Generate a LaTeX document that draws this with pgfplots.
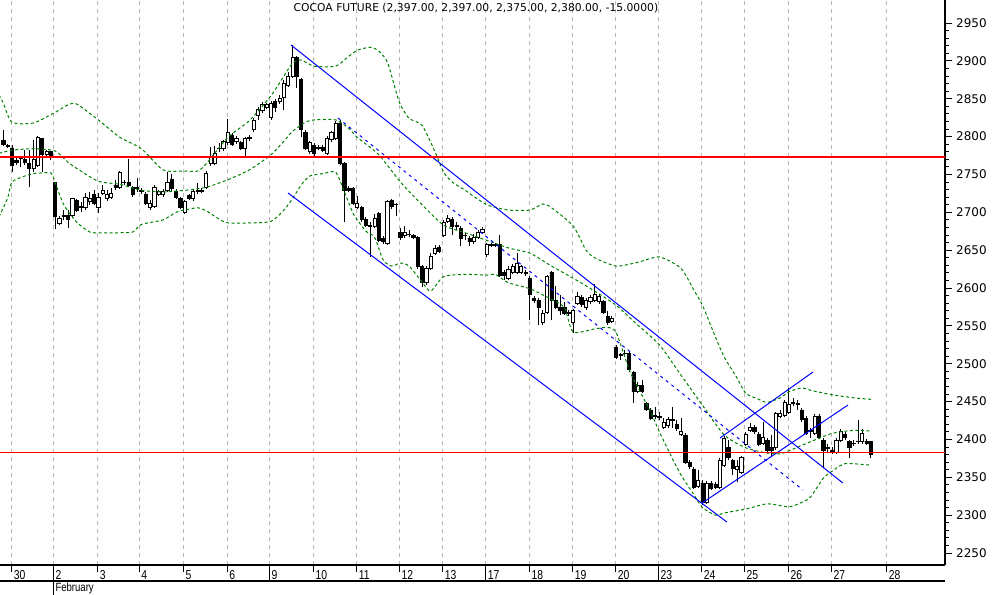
\documentclass[border=0pt]{standalone}
\usepackage{fontspec}
\setmainfont{DejaVu Sans}
\newfontfamily\narrowfont[FakeStretch=0.8]{Liberation Sans}
\usepackage{pgfplots}
\pgfplotsset{compat=1.18}
\usepackage{pgfplotstable}
\definecolor{bandgreen}{RGB}{0,128,0}
\definecolor{gridgray}{RGB}{185,185,185}

\pgfplotstableread{
n O H L C
-2 2795 2809 2788 2790
-1 2788 2790 2785 2787
0 2785 2789 2753 2762
1 2768 2772 2762 2766
2 2772 2774 2760 2771
3 2770 2782 2762 2766
4 2764 2782 2733 2758
5 2758 2795 2753 2770
6 2762 2801 2760 2799
7 2797 2798 2753 2776
8 2777 2782 2773 2780
9 2780 2781 2769 2773
10 2739 2740 2678 2694
11 2686 2695 2683 2692
12 2696 2703 2690 2695
13 2696 2703 2679 2690
14 2696 2719 2692 2718
15 2716 2718 2700 2703
16 2708 2714 2700 2706
17 2706 2726 2703 2720
18 2714 2727 2710 2719
19 2723 2729 2710 2712
20 2707 2726 2699 2720
21 2725 2736 2723 2729
22 2718 2729 2715 2724
23 2720 2732 2718 2725
24 2736 2743 2729 2733
25 2733 2755 2731 2753
26 2740 2743 2736 2739
27 2740 2770 2733 2736
28 2733 2735 2720 2723
29 2733 2745 2727 2732
30 2727 2732 2724 2729
31 2724 2727 2710 2712
32 2707 2716 2703 2712
33 2708 2736 2706 2733
34 2724 2729 2722 2727
35 2723 2731 2720 2728
36 2729 2753 2727 2740
37 2744 2751 2728 2731
38 2728 2731 2718 2720
39 2718 2720 2704 2707
40 2700 2716 2698 2714
41 2722 2724 2716 2719
42 2718 2729 2715 2727
43 2727 2739 2724 2729
44 2727 2732 2725 2729
45 2733 2755 2731 2752
46 2764 2786 2761 2772
47 2765 2788 2762 2778
48 2784 2792 2780 2785
49 2784 2795 2781 2793
50 2792 2823 2789 2806
51 2802 2805 2788 2790
52 2793 2801 2790 2798
53 2792 2794 2782 2785
54 2785 2799 2773 2798
55 2797 2802 2794 2799
56 2809 2825 2806 2822
57 2828 2839 2822 2836
58 2834 2846 2831 2843
59 2839 2844 2836 2842
60 2826 2847 2822 2844
61 2847 2850 2832 2838
62 2846 2855 2843 2851
63 2852 2875 2835 2870
64 2868 2885 2866 2879
65 2880 2921 2877 2904
66 2904 2906 2864 2880
67 2875 2877 2799 2809
68 2806 2809 2782 2785
69 2780 2794 2777 2792
70 2789 2792 2772 2778
71 2786 2789 2782 2785
72 2786 2789 2780 2782
73 2778 2801 2776 2798
74 2796 2807 2793 2805
75 2798 2821 2796 2818
76 2818 2822 2762 2765
77 2765 2766 2687 2729
78 2732 2735 2727 2729
79 2731 2733 2710 2712
80 2707 2722 2704 2712
81 2706 2708 2687 2690
82 2691 2694 2681 2683
83 2683 2687 2641 2681
84 2682 2698 2679 2692
85 2698 2700 2661 2663
86 2666 2669 2658 2661
87 2659 2716 2657 2715
88 2716 2718 2704 2708
89 2711 2712 2695 2710
90 2673 2679 2663 2667
91 2669 2682 2666 2674
92 2671 2677 2667 2670.5
93 2669 2671 2665 2667
94 2667 2669 2625 2628
95 2628 2630 2601 2607
96 2607 2629 2604 2626
97 2626 2646 2624 2642
98 2646 2657 2644 2652
99 2654 2657 2646 2649
100 2670 2690 2667 2687
101 2688 2696 2686 2692
102 2691 2694 2670 2681
103 2683 2687 2677 2682
104 2679 2682 2656 2665
105 2670 2673 2663 2669
106 2666 2669 2656 2661
107 2661 2671 2658 2667
108 2667 2677 2665 2674
109 2674 2681 2671 2678
110 2644 2659 2641 2657
111 2658 2659 2654 2656
112 2658 2659 2654 2656
113 2657 2670 2615 2617
114 2620 2624 2611 2617
115 2613 2629 2611 2624
116 2621 2632 2618 2628
117 2621 2646 2618 2633
118 2621 2630 2618 2628
119 2621 2624 2616 2619
120 2613 2616 2558 2591
121 2586 2589 2580 2584
122 2584 2587 2551 2574
123 2554 2571 2551 2567
124 2568 2617 2566 2615
125 2620 2622 2558 2584
126 2584 2603 2572 2575
127 2575 2591 2564 2571
128 2575 2582 2564 2567
129 2568 2571 2563 2566
130 2555 2572 2541 2570
131 2580 2595 2578 2589
132 2588 2591 2575 2578
133 2574 2587 2571 2584
134 2582 2591 2579 2588
135 2584 2605 2582 2592
136 2582 2592 2579 2589
137 2582 2584 2566 2568
138 2563 2570 2551 2554
139 2556 2563 2554 2560
140 2522 2525 2506 2509
141 2512 2514 2505 2511
142 2514 2518 2510 2513
143 2514 2517 2489 2492
144 2488 2490 2448 2463
145 2464 2476 2461 2472
146 2471 2479 2461 2464
147 2447 2449 2438 2440
148 2439 2442 2426 2428
149 2430 2443 2427 2432
150 2430 2436 2426 2429
151 2416 2428 2414 2422
152 2418 2430 2415 2426
153 2426 2443 2415 2425
154 2420 2426 2411 2414
155 2407 2428 2405 2410
156 2406 2408 2368 2370
157 2370 2373 2361 2364
158 2361 2364 2335 2337
159 2338 2360 2336 2346
160 2342 2346 2313 2317
161 2317 2345 2315 2342
162 2342 2345 2333 2336
163 2341 2344 2335 2337
164 2337 2376 2335 2373
165 2366 2405 2364 2402
166 2390 2399 2373 2376
167 2372 2374 2353 2362
168 2360 2373 2344 2364
169 2357 2378 2354 2376
170 2394 2410 2391 2407
171 2412 2422 2410 2416
172 2416 2419 2407 2410
173 2407 2410 2391 2394
174 2395 2423 2393 2403
175 2399 2402 2383 2386
176 2390 2406 2378 2386
177 2389 2436 2386 2434
178 2431 2439 2428 2435
179 2432 2452 2430 2449
180 2436 2468 2434 2446
181 2449 2455 2444 2447
182 2447 2452 2439 2446
183 2439 2442 2423 2426
184 2428 2431 2406 2408
185 2412 2415 2402 2410
186 2408 2434 2406 2431
187 2431 2434 2401 2403
188 2399 2402 2364 2386
189 2389 2394 2383 2388
190 2385 2390 2381 2383
191 2383 2402 2381 2399
192 2399 2414 2397 2411
193 2407 2410 2399 2403
194 2397 2399 2376 2390
195 2395 2399 2391 2394.5
196 2398 2426 2394 2397
197 2397 2414 2394 2408
198 2398 2401 2393 2395
199 2397 2397 2375 2380
}\candles

\pgfplotstableread{
n v
-3 2855
-2 2844
0 2819
5 2818
10 2832
13 2842
15 2843
20 2822
25 2799
30 2784
35 2756
40 2754.5
43 2754.5
45 2764
50 2799
55 2821
60 2854
63 2880
65 2897
67 2901
70 2893
75 2893
78 2906
80 2914
83 2918
85 2913
87 2898
89 2859
90 2842
92 2824
95 2815
98 2780
100 2753
102 2740
105 2729
110 2710
115 2703
120 2703
123 2711
125 2706
130 2682
133 2650
135 2640
140 2629
145 2634
150 2641
155 2626
158 2597
160 2577
163 2535
165 2509
168 2481
170 2461
173 2453
175 2449
178 2455
180 2463
183 2468
185 2465
190 2459
195 2455
199 2453
}\upperband

\pgfplotstableread{
n v
-3 2778
0 2782
5 2784
10 2781
13 2766
15 2758
20 2741
25 2737
30 2729
35 2727
40 2729
45 2733
50 2743
55 2756
60 2776
63 2794
65 2807
68 2819
70 2822
75 2822
78 2811
80 2799
85 2776
90 2740
95 2710
100 2683
105 2673
110 2663
115 2653
120 2646
125 2629
130 2613
135 2596
140 2577
145 2551
150 2525
155 2485
160 2445
165 2406
170 2389
175 2382
178 2381
180 2385
185 2397
190 2408
195 2412
199 2411
}\middleband

\pgfplotstableread{
n v
-3 2694
-1 2719
0 2740
3 2748
5 2751
9 2752
10 2739
12 2710
15 2687
18 2674
20 2673
25 2673
28 2674
30 2684
35 2690
38 2700
40 2703
43 2706
45 2702
48 2691
50 2686
55 2686
60 2688
63 2703
65 2718
67 2736
69 2748
72 2751
75 2753
77 2727
79 2699
80 2690
82 2675
84 2667
86 2637
88 2629
90 2633
92 2629
95 2608
97 2596
100 2615
105 2618
110 2617
112 2618
115 2607
120 2599
125 2585
128 2574
130 2542
135 2546
138 2548
140 2541
143 2492
145 2469
148 2436
150 2410
153 2375
155 2353
158 2327
160 2310
163 2300
165 2303
170 2308
175 2315
180 2311
183 2317
185 2324
188 2349
190 2358
193 2368
199 2366
}\lowerband

\begin{document}
\begin{tikzpicture}
\useasboundingbox (0,0) rectangle (994bp,595bp);
\begin{axis}[
  at={(0bp,30bp)}, anchor=south west,
  scale only axis, width=945bp, height=565bp,
  xmin=-2.78, xmax=216.17, ymin=2234.2, ymax=2980.4,
  axis x line*=bottom, axis y line*=right,
  axis line style={-, line width=1.1bp, black},
  clip mode=individual,
  tick align=outside,
  ytick={2250,2300,...,2950},
  yticklabels={2250,2300,2350,2400,2450,2500,2550,2600,2650,2700,2750,2800,2850,2900,2950},
  minor y tick num=4,
  major tick length=7bp, minor tick length=4bp,
  tick style={black, line width=1bp},
  yticklabel style={font=\fontsize{12}{12}\selectfont, anchor=west, inner sep=0pt, xshift=4bp},
  xtick={-0.07,9.57,19.86,29.49,39.69,49.88,59.62,69.81,79.87,89.74,99.79,109.75,119.86,129.91,139.87,149.75,159.80,169.72,179.87,189.83,202.66},
  xticklabels={30,2,3,4,5,6,9,10,11,12,13,17,18,19,20,23,24,25,26,27,28},
  xticklabel style={font=\narrowfont\fontsize{13}{13}\selectfont, anchor=north west, inner sep=0pt, xshift=2bp, yshift=2bp},
  xmajorgrids,
  major x grid style={gridgray, dash pattern=on 4bp off 4bp, line width=1bp},
  extra x ticks={9.57,59.62,109.75,149.75},
  extra x tick labels={},
  extra x tick style={grid=none, major tick length=16bp},
  title={COCOA FUTURE (2,397.00, 2,397.00, 2,375.00, 2,380.00, -15.0000)},
  title style={at={(0.5037,1)}, anchor=north, yshift=-9bp, inner sep=0pt, font=\fontsize{10.8}{10.8}\selectfont},
]
% candle wicks
\addplot[draw=none, mark=none, forget plot,
  error bars/.cd, y dir=plus, y explicit, error mark=none,
  error bar style={draw=black, solid, line width=0.9bp}]
  table[x=n, y=L, y error plus expr=\thisrow{H}-\thisrow{L}] {\candles};
% candle bodies (stacked bars: invisible base, black body, white body)
\addplot[ybar, bar width=3.2bp, bar shift=0pt, stack plots=y, draw=none, fill=none, forget plot]
  table[x=n, y expr={min(\thisrow{O},\thisrow{C})}] {\candles};
\addplot[ybar, bar width=3.2bp, bar shift=0pt, stack plots=y, draw=black, fill=black, line width=0.8bp, forget plot]
  table[x=n, y expr={(\thisrow{O}>\thisrow{C})*(\thisrow{O}-\thisrow{C})}] {\candles};
\addplot[ybar, bar width=3.2bp, bar shift=0pt, stack plots=y, draw=black, fill=white, line width=0.8bp, forget plot]
  table[x=n, y expr={(1-(\thisrow{O}>\thisrow{C}))*(\thisrow{C}-\thisrow{O})}] {\candles};
% bands
\addplot[bandgreen, line width=1bp, dash pattern=on 3bp off 2.5bp, smooth, tension=0.4] table[x=n, y=v] {\upperband};
\addplot[bandgreen, line width=1bp, dash pattern=on 3bp off 2.5bp, smooth, tension=0.4] table[x=n, y=v] {\middleband};
\addplot[bandgreen, line width=1bp, dash pattern=on 3bp off 2.5bp, smooth, tension=0.4] table[x=n, y=v] {\lowerband};
% channel lines
\addplot[blue, line width=1bp] coordinates {(64.64,2921.0) (192.5,2342.5)};
\addplot[blue, line width=1bp] coordinates {(63.95,2725.5) (165.66,2290.9)};
\addplot[blue, line width=1bp, dash pattern=on 3bp off 4bp] coordinates {(75.53,2824.5) (183.27,2333.2)};
\addplot[blue, line width=1bp] coordinates {(164.04,2401.9) (185.59,2489.1)};
\addplot[blue, line width=1bp] coordinates {(159.87,2316.0) (193.70,2445.5)};
% horizontal red lines
\addplot[red, line width=1.3bp] coordinates {(-2.78,2773) (216.17,2773)};
\addplot[red, line width=1.3bp] coordinates {(-2.78,2383) (216.17,2383)};
% date area decorations
\draw[line width=1.1bp] ([yshift=-16bp]rel axis cs:0,0) -- ([yshift=-16bp]rel axis cs:1,0);
\draw[line width=1bp] (axis cs:9.57,2234.2) -- ([yshift=-30bp]axis cs:9.57,2234.2);
\node[anchor=west, inner sep=0pt, font=\narrowfont\fontsize{12}{12}\selectfont] at ([xshift=2bp, yshift=-23.5bp]axis cs:9.57,2234.2) {February};
\end{axis}
\end{tikzpicture}
\end{document}
